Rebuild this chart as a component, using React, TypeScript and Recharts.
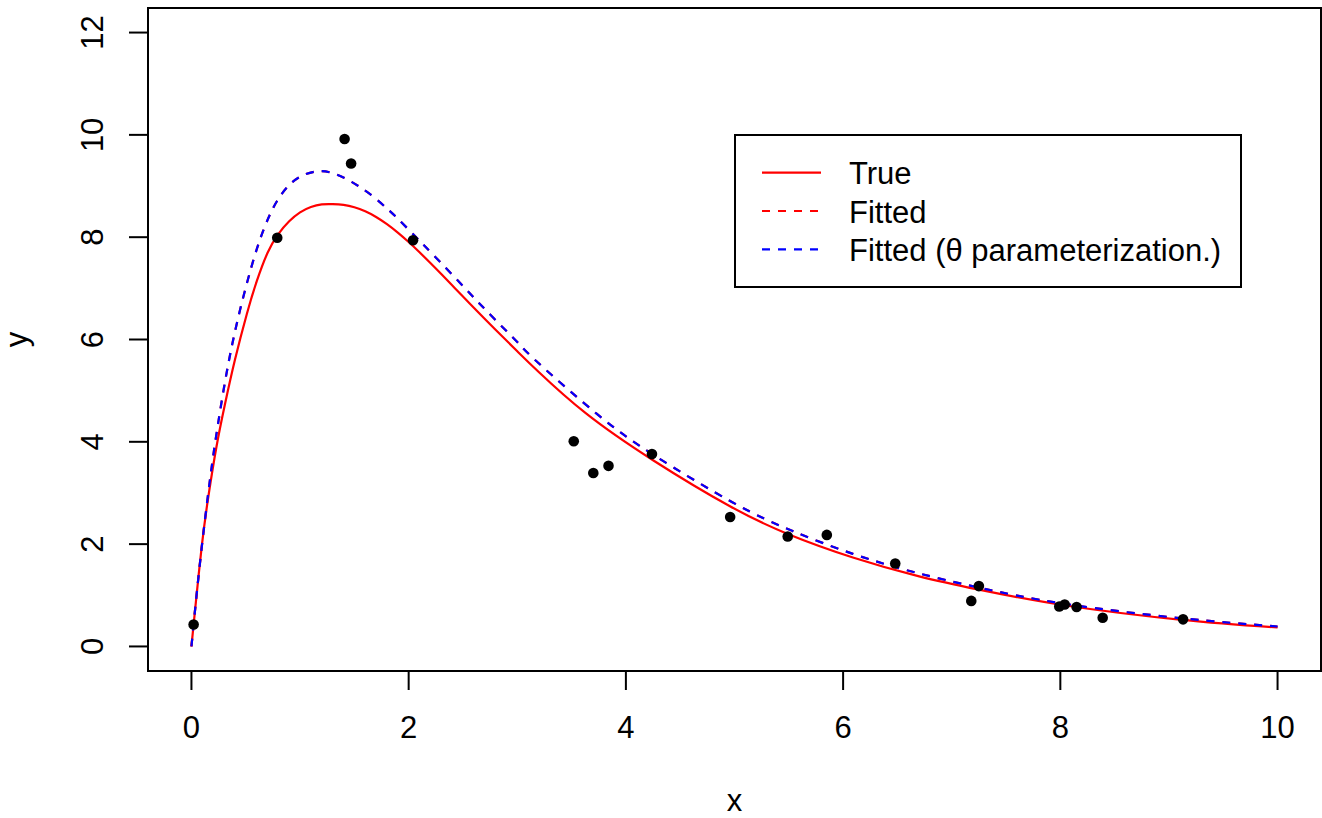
import {
  ComposedChart,
  Line,
  Scatter,
  XAxis,
  YAxis,
  ReferenceArea,
} from 'recharts';

// observed data
const obsX = [0.02, 0.79, 1.41, 1.47, 2.04, 3.52, 3.7, 3.84, 4.24, 4.96, 5.49, 5.85, 6.48, 7.18, 7.25, 7.99, 8.04, 8.15, 8.39, 9.13];
const obsY = [0.43, 7.99, 9.92, 9.44, 7.94, 4.01, 3.39, 3.53, 3.76, 2.53, 2.15, 2.18, 1.62, 0.89, 1.18, 0.78, 0.82, 0.77, 0.56, 0.53];

// true curve
const trueX = [0, 0.03, 0.094, 0.155, 0.23, 0.31, 0.4, 0.51, 0.6, 0.7, 0.8, 0.9, 1.0, 1.1, 1.2, 1.3, 1.4, 1.5, 1.6, 1.7, 1.8, 1.9, 2.0, 2.1, 2.2, 2.3, 2.4, 2.5, 2.6, 2.8, 3.0, 3.2, 3.63, 4.25, 4.95, 5.49, 6.09, 6.7, 7.25, 8.05, 9.12, 10];
const trueY = [0, 0.64, 1.94, 2.92, 3.9, 4.75, 5.6, 6.5, 7.13, 7.69, 8.06, 8.31, 8.485, 8.59, 8.64, 8.645, 8.63, 8.585, 8.505, 8.395, 8.255, 8.09, 7.905, 7.705, 7.495, 7.28, 7.06, 6.84, 6.62, 6.19, 5.77, 5.36, 4.56, 3.64, 2.75, 2.2, 1.74, 1.37, 1.11, 0.8, 0.52, 0.37];

// fitted curve (both parameterizations overlap)
const fitX = [0, 0.078, 0.17, 0.25, 0.34, 0.45, 0.58, 0.676, 0.752, 0.829, 0.921, 1.028, 1.166, 1.304, 1.442, 1.565, 1.687, 1.795, 1.887, 1.994, 2.1, 2.21, 2.4, 2.6, 2.8, 3.0, 3.2, 3.73, 4.25, 4.98, 5.53, 6.09, 6.64, 7.25, 8.05, 9.12, 10];
const fitY = [0, 1.62, 3.25, 4.42, 5.53, 6.6, 7.62, 8.21, 8.57, 8.84, 9.06, 9.21, 9.29, 9.25, 9.12, 8.96, 8.77, 8.57, 8.39, 8.16, 7.93, 7.69, 7.27, 6.82, 6.38, 5.95, 5.53, 4.55, 3.75, 2.82, 2.26, 1.81, 1.46, 1.15, 0.83, 0.55, 0.39];

const xTicks = [0, 2, 4, 6, 8, 10];
const yTicks = [0, 2, 4, 6, 8, 10, 12];

const legendLabels = ['True', 'Fitted', 'Fitted (\u03b8 parameterization.)'];
const legendColors = ['#ff0000', '#ff0000', '#0000ff'];
const legendDashed = [false, true, true];

const points = obsX.map((x, i) => ({ x, y: obsY[i] }));
const trueData = trueX.map((x, i) => ({ x, y: trueY[i] }));
const fitData = fitX.map((x, i) => ({ x, y: fitY[i] }));

const FONT = '"Liberation Sans", Arial, Helvetica, sans-serif';
const FS = 31;

const XTick = (props: any) => {
  const { x, payload } = props;
  return (
    <text x={x} y={738} textAnchor="middle" fontSize={FS} fontFamily={FONT} fill="#000">
      {payload.value}
    </text>
  );
};

const YTick = (props: any) => {
  const { y, payload } = props;
  return (
    <text
      x={103}
      y={y}
      textAnchor="middle"
      fontSize={FS}
      fontFamily={FONT}
      fill="#000"
      transform={`rotate(-90, 103, ${y})`}
    >
      {payload.value}
    </text>
  );
};

const Dot = (props: any) => {
  const { cx, cy } = props;
  return <circle cx={cx} cy={cy} r={5.3} fill="#000" />;
};

const App = () => {
  return (
    <div
      style={{
        position: 'absolute',
        left: 0,
        top: 0,
        width: 1322,
        height: 818,
        background: '#fff',
        fontFamily: FONT,
      }}
    >
      <ComposedChart width={1322} height={818} margin={{ top: 8, right: 1, bottom: 0, left: 0 }}>
        <XAxis
          type="number"
          dataKey="x"
          domain={[-0.4, 10.4]}
          ticks={xTicks}
          allowDataOverflow
          height={147}
          axisLine={false}
          tickLine={{ stroke: '#000', strokeWidth: 2 }}
          tickSize={19}
          tick={<XTick />}
        />
        <YAxis
          type="number"
          dataKey="y"
          domain={[-0.48, 12.48]}
          ticks={yTicks}
          allowDataOverflow
          width={148}
          axisLine={false}
          tickLine={{ stroke: '#000', strokeWidth: 2 }}
          tickSize={19}
          tick={<YTick />}
        />
        <Scatter data={points} shape={<Dot />} isAnimationActive={false} />
        <Line
          data={trueData}
          dataKey="y"
          type="natural"
          stroke="#ff0000"
          strokeWidth={2.2}
          dot={false}
          activeDot={false}
          isAnimationActive={false}
        />
        <Line
          data={fitData}
          dataKey="y"
          type="natural"
          stroke="#ff0000"
          strokeWidth={2.2}
          strokeDasharray="8 8"
          dot={false}
          activeDot={false}
          isAnimationActive={false}
        />
        <Line
          data={fitData}
          dataKey="y"
          type="natural"
          stroke="#0000ff"
          strokeWidth={2.2}
          strokeDasharray="8 8"
          dot={false}
          activeDot={false}
          isAnimationActive={false}
        />
        <ReferenceArea
          x1={-0.4}
          x2={10.4}
          y1={-0.48}
          y2={12.48}
          fill="none"
          fillOpacity={0}
          stroke="#000"
          strokeWidth={2}
          ifOverflow="visible"
        />
      </ComposedChart>

      {/* axis titles and legend */}
      <svg
        width={1322}
        height={818}
        style={{ position: 'absolute', left: 0, top: 0, pointerEvents: 'none' }}
      >
        <text x={734.5} y={811} textAnchor="middle" fontSize={FS} fontFamily={FONT} fill="#000">
          x
        </text>
        <text
          x={27}
          y={339.5}
          textAnchor="middle"
          fontSize={FS}
          fontFamily={FONT}
          fill="#000"
          transform="rotate(-90, 27, 339.5)"
        >
          y
        </text>
        <rect x={735} y={135} width={506} height={152} fill="#fff" stroke="#000" strokeWidth={2} />
        {legendLabels.map((label, i) => {
          const cy = 172.7 + i * 38.3;
          return (
            <g key={label}>
              <line
                x1={762}
                x2={821}
                y1={cy}
                y2={cy}
                stroke={legendColors[i]}
                strokeWidth={2.2}
                strokeDasharray={legendDashed[i] ? '8 8' : undefined}
              />
              <text x={849} y={cy + 11.6} fontSize={FS} fontFamily={FONT} fill="#000">
                {label}
              </text>
            </g>
          );
        })}
      </svg>
    </div>
  );
};

export default App;
